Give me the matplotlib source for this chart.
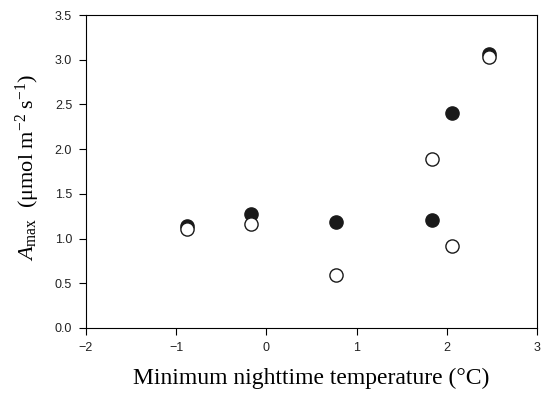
import matplotlib
matplotlib.use("Agg")
import matplotlib.pyplot as plt

temp = [-0.88, -0.17, 0.77, 1.84, 2.06, 2.47]
filled_vals = [1.14, 1.28, 1.19, 1.21, 2.40, 3.06]
open_vals = [1.11, 1.16, 0.59, 1.89, 0.92, 3.03]
xticks = [-2, -1, 0, 1, 2, 3]
xticklabels = ["\u22122", "\u22121", "0", "1", "2", "3"]
yticks = [0.0, 0.5, 1.0, 1.5, 2.0, 2.5, 3.0, 3.5]

plt.rcParams['mathtext.fontset'] = 'custom'
plt.rcParams['mathtext.rm'] = 'Liberation Serif'
plt.rcParams['mathtext.it'] = 'Liberation Serif:italic'

fig = plt.figure(figsize=(5.44, 3.93), dpi=100)
ax = fig.add_axes([86/544, 1-328/393, (537-86)/544, (328-15)/393])

ax.plot(temp, filled_vals, 'o', ms=9.5, mfc='#1a1a1a', mec='#1a1a1a', mew=1.0, zorder=3)
ax.plot(temp, open_vals, 'o', ms=9.5, mfc='white', mec='#1a1a1a', mew=1.0, zorder=4)

ax.set_xlim(-2, 3)
ax.set_ylim(0, 3.5)
ax.set_xticks(xticks)
ax.set_xticklabels(xticklabels)
ax.set_yticks(yticks)
ax.set_yticklabels([f"{v:.1f}" for v in yticks])
ax.tick_params(direction='out', length=5, width=0.8, labelsize=9, pad=5)
for lab in ax.get_xticklabels() + ax.get_yticklabels():
    lab.set_fontfamily('Liberation Sans')
    lab.set_color('#222222')
for s in ax.spines.values():
    s.set_linewidth(0.8)

ax.set_xlabel("Minimum nighttime temperature (\u00b0C)", fontfamily='Liberation Serif', fontsize=17, labelpad=10)
ax.set_ylabel(r"$\mathit{A}_{\mathrm{max}}$  ($\mathrm{\mu}$mol m$^{\mathrm{-2}}$ s$^{\mathrm{-1}}$)",
              fontfamily='Liberation Serif', fontsize=16)
ax.yaxis.set_label_coords(-44/451, 0.513)

fig.savefig("out.png", dpi=100)
